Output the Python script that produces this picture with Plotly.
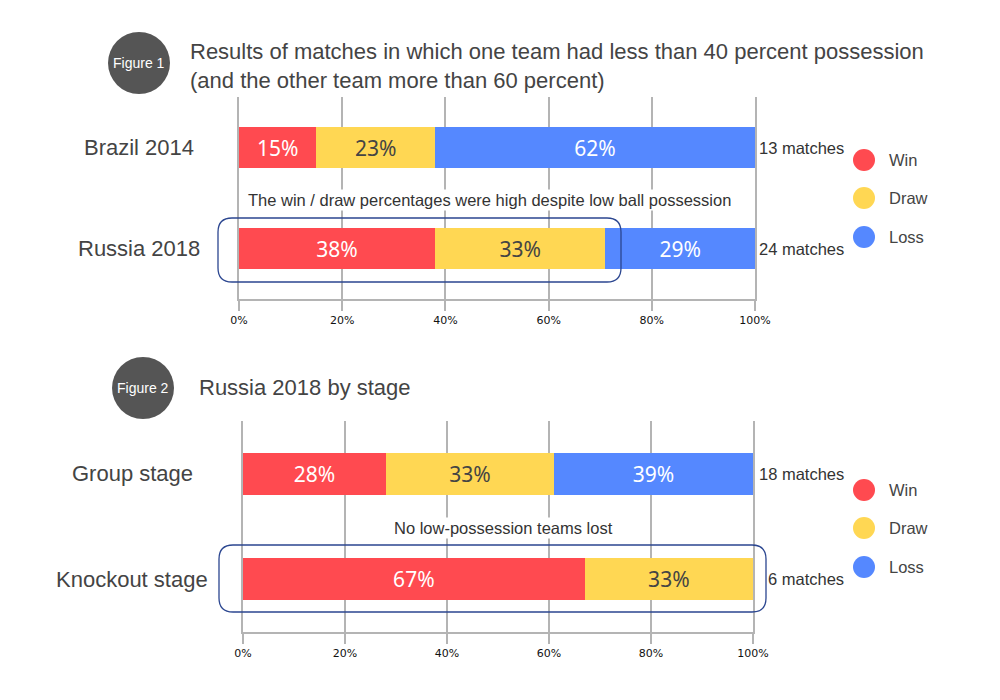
import plotly.graph_objects as go
from plotly.subplots import make_subplots

# data
outcomes = ["Win", "Draw", "Loss"]
colors = ["#FF4A50", "#FFD753", "#5588FF"]
text_colors = ["white", "#444444", "white"]

tournaments = ["Brazil 2014", "Russia 2018"]
win_1 = [15, 38]
draw_1 = [23, 33]
loss_1 = [62, 29]
matches_1 = [13, 24]

stages = ["Group stage", "Knockout stage"]
win_2 = [28, 67]
draw_2 = [33, 33]
loss_2 = [39, 0]
matches_2 = [18, 6]

W, H = 1000, 700
OFF = 8  # page body margin

def px(x):
    return (x - OFF) / W

def py(y):
    return 1 - (y - OFF) / H

def rounded_rect(x0, y0, x1, y1, r):
    # path in paper coords, corners made with quadratic curves
    P = lambda x, y: "%.5f,%.5f" % (px(x), py(y))
    return ("M" + P(x0 + r, y0) + "L" + P(x1 - r, y0) +
            "Q" + P(x1, y0) + " " + P(x1, y0 + r) +
            "L" + P(x1, y1 - r) +
            "Q" + P(x1, y1) + " " + P(x1 - r, y1) +
            "L" + P(x0 + r, y1) +
            "Q" + P(x0, y1) + " " + P(x0, y1 - r) +
            "L" + P(x0, y0 + r) +
            "Q" + P(x0, y0) + " " + P(x0 + r, y0) + "Z")

fig = make_subplots(rows=2, cols=1)

series = [
    (tournaments, [win_1, draw_1, loss_1], 1),
    (stages, [win_2, draw_2, loss_2], 2),
]
for cats, vals, row in series:
    for i, v in enumerate(vals):
        fig.add_trace(go.Bar(
            y=cats, x=v, orientation="h", name=outcomes[i],
            marker=dict(color=colors[i], line=dict(width=0)),
            width=0.4,
            text=[f"{a}%" if a else "" for a in v],
            textposition="inside", insidetextanchor="middle",
            textfont=dict(family="Noto Sans", size=21, color=text_colors[i]),
            hoverinfo="skip",
        ), row=row, col=1)

grid_col = "#B4B4B4"
axis_x = dict(
    range=[0, 100], dtick=20, ticksuffix="%", showgrid=True,
    gridcolor=grid_col, gridwidth=1.5, zeroline=False,
    showline=True, linecolor=grid_col, linewidth=1.5,
    ticks="outside", ticklen=10, tickcolor=grid_col, tickwidth=1.5,
    tickfont=dict(family="DejaVu Sans", size=11, color="#111111"),
    fixedrange=True,
)
# y axis line on both sides gives the 0% and 100% rules
axis_y = dict(range=[1.5, -0.5], showticklabels=False, showgrid=False,
              zeroline=False, showline=True, mirror=True, linecolor=grid_col,
              linewidth=1.5, ticks="", layer="below traces")

fig.update_layout(
    xaxis=dict(domain=[px(239), px(755)], anchor="y", **axis_x),
    yaxis=dict(domain=[py(299), py(97)], anchor="x", **axis_y),
    xaxis2=dict(domain=[px(243), px(753)], anchor="y2", **axis_x),
    yaxis2=dict(domain=[py(632), py(421)], anchor="x2", **axis_y),
    barmode="stack",
    showlegend=False,
    width=W, height=H,
    margin=dict(l=0, r=0, t=0, b=0, autoexpand=False),
    plot_bgcolor="white", paper_bgcolor="white",
)

ann = []
shapes = []
label_font = dict(family="Liberation Sans", size=22, color="#444444")
note_font = dict(family="Liberation Sans", size=16.5, color="#333333")

def note(x, y, text, font, xanchor="center", **kw):
    ann.append(dict(x=px(x), y=py(y), xref="paper", yref="paper", text=text,
                    showarrow=False, xanchor=xanchor, yanchor="middle",
                    font=font, **kw))

# category names and match counts
for cats, counts, yref, cx in [(tournaments, matches_1, "y", 139), (stages, matches_2, "y2", 132)]:
    for c, n in zip(cats, counts):
        ann.append(dict(x=px(cx), y=c, xref="paper", yref=yref, text=c,
                        showarrow=False, xanchor="center", yanchor="middle",
                        font=label_font))
        ann.append(dict(x=px(846), y=c, xref="paper", yref=yref,
                        text=f"{n} matches", showarrow=False,
                        xanchor="right", yanchor="middle", font=note_font))

# figure badges and titles
badges = [("Figure 1", 139, 63, 188, 66,
           "Results of matches in which one team had less than 40 percent possession<br>"
           "(and the other team more than 60 percent)"),
          ("Figure 2", 143, 388, 197, 387, "Russia 2018 by stage")]
for lab, bx, by, tx, ty, title in badges:
    shapes.append(dict(type="circle", xref="paper", yref="paper",
                       x0=px(bx - 31), x1=px(bx + 31), y0=py(by + 31), y1=py(by - 31),
                       fillcolor="#555555", line=dict(width=0)))
    note(bx, by, lab, dict(family="Liberation Sans", size=14, color="white"))
    note(tx, ty, title, label_font, xanchor="left", align="left")

# legends
for ys in [(160, 198, 237), (490, 528, 567)]:
    for i, yy in enumerate(ys):
        shapes.append(dict(type="circle", xref="paper", yref="paper",
                           x0=px(864 - 11), x1=px(864 + 11), y0=py(yy + 11), y1=py(yy - 11),
                           fillcolor=colors[i], line=dict(width=0)))
        note(887, yy, outcomes[i],
             dict(family="Liberation Sans", size=16.5, color="#444444"), xanchor="left")

# callouts
note(489, 200, "The win / draw percentages were high despite low ball possession",
     note_font, bgcolor="white")
note(503, 528, "No low-possession teams lost", note_font, bgcolor="white")

for box in [(218, 218, 621, 282), (219, 545, 766, 612)]:
    shapes.append(dict(type="path", xref="paper", yref="paper",
                       path=rounded_rect(*box, 14),
                       line=dict(color="#2B4690", width=1.3), layer="above"))

fig.update_layout(annotations=ann, shapes=shapes)

fig.write_html("out.html")
